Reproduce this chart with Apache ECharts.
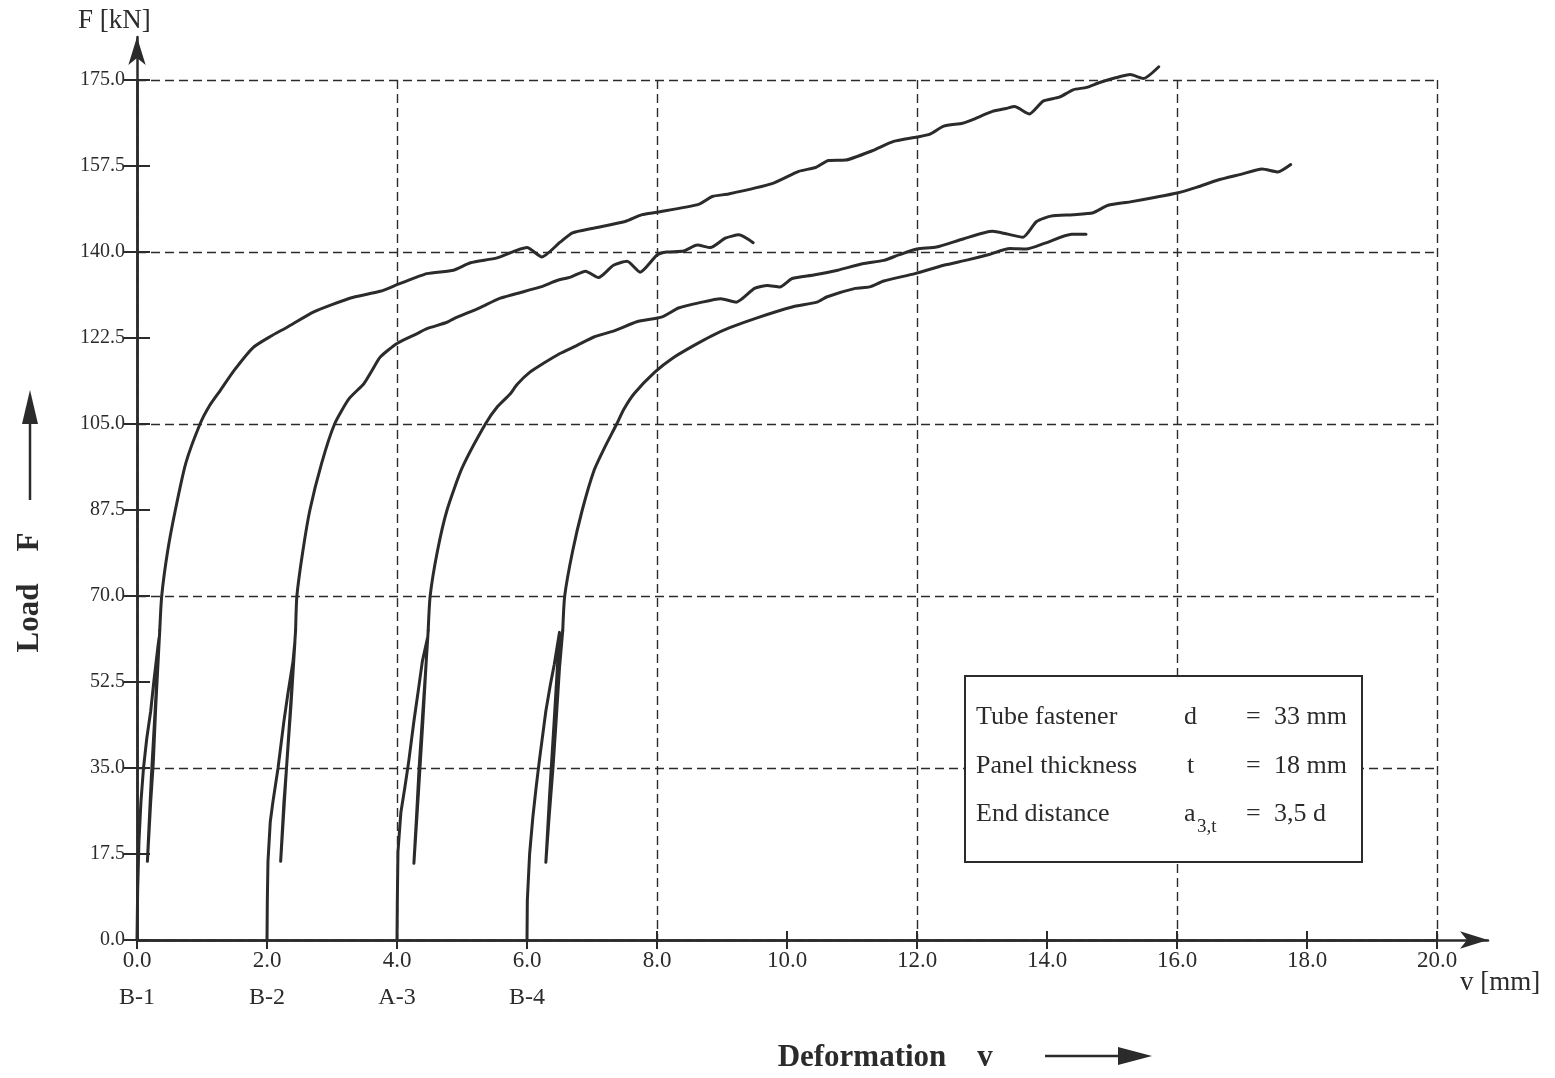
<!DOCTYPE html>
<html>
<head>
<meta charset="utf-8">
<title>Load F - Deformation v</title>
<script src="https://cdn.jsdelivr.net/npm/echarts@6/dist/echarts.min.js"></script>
<style>
html, body { margin: 0; padding: 0; background: #fff; }
#chart { width: 1555px; height: 1078px; }
</style>
</head>
<body>
<div id="chart"></div>
<script>
// specimen names and where each curve starts on the v axis
const specimens = ['B-1', 'B-2', 'A-3', 'B-4']
const specimenStart = [0, 2, 4, 6]

// axis ranges / tick steps
const xMax = 20, xStep = 2, xGridStep = 4
const yMax = 175, yStep = 17.5, yGridStep = 35

// [v mm, F kN]: loading, unloading, reloading (first 18 points), then envelope
const loopLength = 18
const curveB1 = [
  [0, 0], [0.01, 10], [0.03, 20], [0.06, 28], [0.10, 35], [0.15, 41], [0.21, 46.5], [0.26, 52.7], [0.32, 59.5], [0.34, 61.5],
  [0.28, 47], [0.22, 33], [0.16, 16],
  [0.21, 28], [0.25, 36], [0.29, 48], [0.33, 58], [0.35, 63],
  [0.38, 70], [0.47, 79], [0.59, 87.5], [0.75, 97], [0.97, 105], [1.12, 108.8], [1.28, 111.8], [1.5, 116], [1.79, 120.6],
  [2.05, 122.8], [2.31, 124.7], [2.72, 127.8], [3.0, 129.3], [3.33, 130.8], [3.74, 132.0], [4.03, 133.5], [4.46, 135.6],
  [4.87, 136.3], [5.13, 137.8], [5.54, 138.8], [6.0, 140.9], [6.23, 139.0], [6.51, 142.0], [6.7, 143.9], [7.0, 144.8],
  [7.51, 146.2], [7.77, 147.6], [8.0, 148.1], [8.64, 149.7], [8.85, 151.3], [9.10, 151.8], [9.77, 153.9], [10.18, 156.4],
  [10.44, 157.2], [10.64, 158.6], [10.9, 158.7], [11.31, 160.6], [11.64, 162.5], [12.0, 163.4], [12.2, 164.0], [12.41, 165.6],
  [12.7, 166.2], [12.85, 166.9], [13.16, 168.6], [13.37, 169.2], [13.5, 169.6], [13.73, 168.1], [13.94, 170.7], [14.19, 171.5],
  [14.4, 173.0], [14.61, 173.5], [14.81, 174.5], [15.07, 175.5], [15.28, 176.1], [15.48, 175.3], [15.72, 177.7]
]
const curveB2 = [
  [2, 0], [2.005, 8], [2.015, 16], [2.05, 24], [2.09, 28], [2.17, 35], [2.26, 44.5], [2.32, 50], [2.40, 56.7], [2.43, 60.8],
  [2.37, 48], [2.30, 35], [2.21, 16],
  [2.26, 28], [2.30, 35], [2.35, 45], [2.40, 55], [2.44, 63],
  [2.46, 70], [2.55, 79], [2.66, 87.5], [2.84, 97], [3.04, 105], [3.26, 110.1], [3.49, 113.2], [3.62, 116], [3.74, 118.6],
  [4.0, 121.4], [4.31, 123.4], [4.46, 124.4], [4.77, 125.7], [4.87, 126.4], [5.28, 128.7], [5.59, 130.6], [6.21, 132.9],
  [6.46, 134.2], [6.67, 134.9], [6.90, 136.1], [7.10, 134.8], [7.33, 137.3], [7.54, 138.1], [7.74, 135.9], [8.0, 139.4],
  [8.15, 140], [8.41, 140.2], [8.62, 141.4], [8.82, 140.9], [9.05, 142.8], [9.26, 143.5], [9.48, 141.9]
]
const curveA3 = [
  [4, 0], [4.005, 8], [4.015, 18], [4.06, 26], [4.12, 31], [4.18, 36.3], [4.26, 44.5], [4.33, 51], [4.39, 56.7], [4.47, 61.5],
  [4.40, 45], [4.33, 30], [4.26, 15.6],
  [4.30, 25], [4.34, 35], [4.39, 45], [4.44, 54.7], [4.48, 63],
  [4.51, 70], [4.62, 79], [4.77, 87.5], [5.0, 96], [5.36, 105], [5.55, 108.6], [5.74, 111.1], [5.85, 113.1], [6.05, 115.6],
  [6.26, 117.4], [6.5, 119.3], [6.77, 121.0], [7.03, 122.7], [7.35, 124], [7.69, 125.8], [8.08, 126.8], [8.33, 128.6],
  [8.66, 129.7], [8.98, 130.5], [9.22, 129.8], [9.5, 132.6], [9.70, 133.2], [9.89, 132.9], [10.08, 134.6], [10.41, 135.3],
  [10.78, 136.3], [11.16, 137.6], [11.49, 138.3], [11.72, 139.4], [12.0, 140.6], [12.3, 141.0], [12.72, 142.7], [13.16, 144.2],
  [13.37, 143.7], [13.63, 143.0], [13.84, 146.2], [14.06, 147.3], [14.4, 147.6], [14.71, 148.0], [14.94, 149.5], [15.28, 150.2],
  [15.65, 151.1], [16.0, 152.0], [16.31, 153.2], [16.62, 154.6], [16.98, 155.8], [17.31, 156.9], [17.55, 156.3], [17.75, 157.8]
]
const curveB4 = [
  [6, 0], [6.005, 8], [6.04, 17.5], [6.09, 25], [6.14, 31], [6.19, 36.5], [6.29, 46.6], [6.36, 52], [6.42, 56.1], [6.50, 62.6],
  [6.42, 45], [6.35, 30], [6.29, 15.8],
  [6.34, 25], [6.40, 35.1], [6.45, 45], [6.50, 55.4], [6.55, 63],
  [6.58, 70], [6.70, 79], [6.85, 87.5], [7.03, 95.5], [7.19, 100.1], [7.38, 105], [7.49, 108], [7.65, 111.2], [7.97, 115.6],
  [8.25, 118.5], [8.57, 121.0], [8.85, 123], [9.12, 124.6], [9.54, 126.6], [10.08, 128.8], [10.46, 129.8], [10.62, 130.9],
  [11.05, 132.6], [11.27, 132.9], [11.49, 134.1], [11.97, 135.6], [12.41, 137.3], [12.78, 138.4], [13.11, 139.5],
  [13.43, 140.7], [13.68, 140.6], [13.97, 141.8], [14.38, 143.6], [14.6, 143.6]
]
const curves = [curveB1, curveB2, curveA3, curveB4]

const ink = '#2b2b2b'
const serif = 'Liberation Serif, Times New Roman, serif'

const chart = echarts.init(document.getElementById('chart'), null, { renderer: 'canvas' })

// shared bits for stacked axes in the same grid
const blankX = { type: 'value', gridIndex: 0, min: 0, max: xMax, position: 'bottom',
  axisLine: { show: false, onZero: false }, axisTick: { show: false }, axisLabel: { show: false }, splitLine: { show: false } }
const blankY = { type: 'value', gridIndex: 0, min: 0, max: yMax, position: 'left',
  axisLine: { show: false, onZero: false }, axisTick: { show: false }, axisLabel: { show: false }, splitLine: { show: false } }
const dashed = { color: ink, width: 1.4, type: [9, 5] }

const curveSeries = []
curves.forEach((c, i) => {
  const base = {
    name: specimens[i], type: 'line', xAxisIndex: 0, yAxisIndex: 0,
    showSymbol: false, clip: false, z: 5,
    lineStyle: { color: ink, width: 3, join: 'round', cap: 'round' }
  }
  // hysteresis loop: sharp corners
  curveSeries.push({ ...base, data: c.slice(0, loopLength) })
  // envelope: a little smoothing
  curveSeries.push({ ...base, data: c.slice(loopLength - 1), smooth: 0.2 })
})

const txt = (x, y, text, size, extra, rotation) => ({
  type: 'text', x, y, z: 30, rotation: rotation || 0,
  style: Object.assign({ text, font: `${size}px ${serif}`, fill: ink, verticalAlign: 'middle' }, extra || {})
})
const boldTitle = { font: `bold 31px ${serif}`, align: 'center' }

const option = {
  animation: false,
  backgroundColor: '#fff',
  grid: [
    { left: 137, right: 118, top: 80, bottom: 138 },
    // only for the long arrowed axis lines
    { left: 137, right: 67, top: 37, bottom: 138 }
  ],
  xAxis: [
    {
      ...blankX, interval: xStep,
      axisLine: { show: true, onZero: false, lineStyle: { color: ink, width: 2.5 } },
      axisTick: { show: true, length: 9, lineStyle: { color: ink, width: 2 } },
      axisLabel: { show: true, margin: 9, fontSize: 23, fontFamily: serif, color: ink,
        showMinLabel: true, showMaxLabel: true, formatter: v => v.toFixed(1) }
    },
    { ...blankX, interval: xStep, axisTick: { show: true, inside: true, length: 9, lineStyle: { color: ink, width: 2 } } },
    { ...blankX, interval: xGridStep, splitLine: { show: true, lineStyle: dashed } },
    {
      ...blankX, interval: xStep,
      axisLabel: { show: true, margin: 46, fontSize: 24, fontFamily: serif, color: ink, showMinLabel: true,
        formatter: v => { const i = specimenStart.indexOf(v); return i >= 0 ? specimens[i] : '' } }
    },
    { type: 'value', gridIndex: 1, min: 0, max: 1, position: 'bottom',
      axisLine: { show: true, onZero: false, symbol: ['none', 'arrow'], symbolSize: [13, 28], lineStyle: { color: ink, width: 2.5 } },
      axisTick: { show: false }, axisLabel: { show: false }, splitLine: { show: false } }
  ],
  yAxis: [
    {
      ...blankY, interval: yStep,
      axisLine: { show: true, onZero: false, lineStyle: { color: ink, width: 2.5 } },
      axisTick: { show: true, length: 13, lineStyle: { color: ink, width: 2 } },
      axisLabel: { show: true, margin: 12, fontSize: 20, fontFamily: serif, color: ink,
        showMinLabel: true, showMaxLabel: true, formatter: v => v.toFixed(1) }
    },
    { ...blankY, interval: yStep, axisTick: { show: true, inside: true, length: 13, lineStyle: { color: ink, width: 2 } } },
    { ...blankY, interval: yGridStep, splitLine: { show: true, lineStyle: dashed } },
    { type: 'value', gridIndex: 1, min: 0, max: 1, position: 'left',
      axisLine: { show: true, onZero: false, symbol: ['none', 'arrow'], symbolSize: [13, 28], lineStyle: { color: ink, width: 2.5 } },
      axisTick: { show: false }, axisLabel: { show: false }, splitLine: { show: false } }
  ],
  series: curveSeries,
  graphic: [
    txt(78, 21, 'F [kN]', 27),
    txt(1460, 983, 'v [mm]', 27),
    // y axis title with arrow
    txt(30, 618, 'Load', 31, boldTitle, Math.PI / 2),
    txt(30, 542, 'F', 31, boldTitle, Math.PI / 2),
    { type: 'line', shape: { x1: 30, y1: 500, x2: 30, y2: 415 }, style: { stroke: ink, lineWidth: 2.5 } },
    { type: 'polygon', shape: { points: [[30, 390], [22, 424], [38, 424]] }, style: { fill: ink } },
    // x axis title with arrow
    txt(862, 1058, 'Deformation', 31, boldTitle),
    txt(985, 1058, 'v', 31, boldTitle),
    { type: 'line', shape: { x1: 1045, y1: 1056, x2: 1125, y2: 1056 }, style: { stroke: ink, lineWidth: 2.5 } },
    { type: 'polygon', shape: { points: [[1152, 1056], [1118, 1047], [1118, 1065]] }, style: { fill: ink } },
    // parameter box
    { type: 'rect', z: 25, shape: { x: 965, y: 676, width: 397, height: 186 }, style: { fill: '#fff', stroke: ink, lineWidth: 2 } },
    txt(976, 717, 'Tube fastener', 26),
    txt(1184, 717, 'd', 26),
    txt(1246, 717, '=', 26),
    txt(1274, 717, '33 mm', 26),
    txt(976, 766, 'Panel thickness', 26),
    txt(1187, 766, 't', 26),
    txt(1246, 766, '=', 26),
    txt(1274, 766, '18 mm', 26),
    txt(976, 814, 'End distance', 26),
    txt(1184, 814, 'a', 26),
    txt(1197, 827, '3,t', 19),
    txt(1246, 814, '=', 26),
    txt(1274, 814, '3,5 d', 26)
  ]
}

chart.setOption(option)
</script>
</body>
</html>
